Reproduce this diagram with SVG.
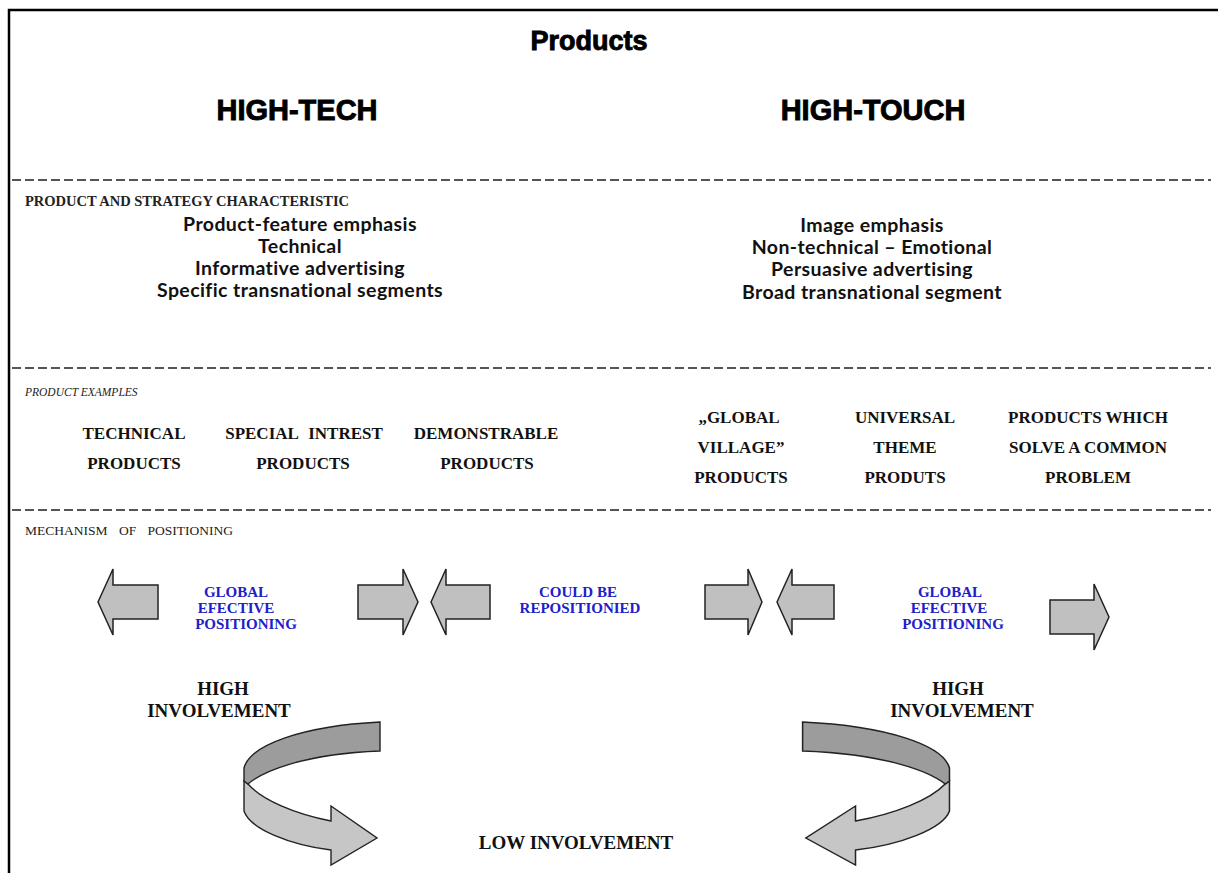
<svg xmlns="http://www.w3.org/2000/svg" width="1223" height="873" viewBox="0 0 1223 873">
<defs>
<style>
.bg{fill:#fff}
.frame{stroke:#000;stroke-width:2.5;fill:none}
.dash{stroke:#555;stroke-width:2;stroke-dasharray:9 4;fill:none}
.title{font-family:"Liberation Sans",Arial,sans-serif;font-weight:bold;fill:#000;stroke:#000;stroke-width:0.9;text-anchor:middle}
.sec{font-family:"Liberation Serif","Times New Roman",serif;fill:#222}
.char{font-family:Lato,"Liberation Sans",sans-serif;font-weight:bold;font-size:19.5px;letter-spacing:0.4px;fill:#111;text-anchor:middle}
.ex{font-family:"Liberation Serif","Times New Roman",serif;font-weight:bold;font-size:17px;fill:#111;text-anchor:middle}
.blue{font-family:"Liberation Serif","Times New Roman",serif;font-weight:bold;font-size:15px;fill:#2020c8;text-anchor:middle}
.inv{font-family:"Liberation Serif","Times New Roman",serif;font-weight:bold;font-size:19px;fill:#111;text-anchor:middle}
.arr{fill:#c0c0c0;stroke:#222;stroke-width:1.5;stroke-linejoin:miter}
.dark{fill:#9c9c9c;stroke:#222;stroke-width:1.4}
.light{fill:#c6c6c6;stroke:#222;stroke-width:1.4}
</style>
<g id="curl">
<path class="light" d="M244,781 L244,811 C250,829 290,845 331,850 L331,865 L377,838 L331,806 L331,821 C295,814 262,800 248,784 Z"/>
<path class="dark" d="M380,722 C302,726 250,745 244,768 L244,781 L248,784 C262,772 302,754 380,751 Z"/>
</g>
</defs>
<rect class="bg" x="0" y="0" width="1223" height="873"/>
<g id="frame">
<path class="frame" d="M9,873 L9,10 L1218,10"/>
</g>
<g id="headers">
<text class="title" x="589" y="50" font-size="27">Products</text>
<text class="title" x="297" y="120" font-size="29">HIGH-TECH</text>
<text class="title" x="873" y="120" font-size="29">HIGH-TOUCH</text>
</g>
<g id="dividers">
<line class="dash" x1="12" y1="180" x2="1211" y2="180"/>
<line class="dash" x1="12" y1="368" x2="1211" y2="368"/>
<line class="dash" x1="12" y1="510" x2="1211" y2="510"/>
</g>
<g id="section-labels">
<text class="sec" x="25" y="206" font-size="14.5" font-weight="bold">PRODUCT AND STRATEGY CHARACTERISTIC</text>
<text class="sec" x="25" y="396" font-size="11.5" font-style="italic">PRODUCT EXAMPLES</text>
<text class="sec" x="25" y="535" font-size="13.5" word-spacing="8">MECHANISM OF POSITIONING</text>
</g>
<g id="hightech-characteristics">
<text class="char" x="300" y="231">Product-feature emphasis</text>
<text class="char" x="300" y="253">Technical</text>
<text class="char" x="300" y="275">Informative advertising</text>
<text class="char" x="300" y="297">Specific transnational segments</text>
</g>
<g id="hightouch-characteristics">
<text class="char" x="872" y="232">Image emphasis</text>
<text class="char" x="872" y="254">Non-technical – Emotional</text>
<text class="char" x="872" y="276">Persuasive advertising</text>
<text class="char" x="872" y="299">Broad transnational segment</text>
</g>
<g id="ex-technical"><text class="ex" x="134" y="439">TECHNICAL</text><text class="ex" x="134" y="469">PRODUCTS</text></g>
<g id="ex-special"><text class="ex" x="304" y="439" word-spacing="6">SPECIAL INTREST</text><text class="ex" x="303" y="469">PRODUCTS</text></g>
<g id="ex-demonstrable"><text class="ex" x="486" y="439">DEMONSTRABLE</text><text class="ex" x="487" y="469">PRODUCTS</text></g>
<g id="ex-global-village"><text class="ex" x="739" y="423">„GLOBAL</text><text class="ex" x="741" y="453">VILLAGE”</text><text class="ex" x="741" y="483">PRODUCTS</text></g>
<g id="ex-universal"><text class="ex" x="905" y="423">UNIVERSAL</text><text class="ex" x="905" y="453">THEME</text><text class="ex" x="905" y="483">PRODUTS</text></g>
<g id="ex-common"><text class="ex" x="1088" y="423">PRODUCTS WHICH</text><text class="ex" x="1088" y="453">SOLVE A COMMON</text><text class="ex" x="1088" y="483">PROBLEM</text></g>
<g id="connectors">
<path class="arr" d="M98,602 L113,569 L113,585 L158,585 L158,619 L113,619 L113,635 Z"/>
<path class="arr" d="M418,602 L403,569 L403,585 L358,585 L358,619 L403,619 L403,635 Z"/>
<path class="arr" d="M431,602 L446,569 L446,585 L490,585 L490,619 L446,619 L446,635 Z"/>
<path class="arr" d="M762,602 L748,569 L748,585 L705,585 L705,619 L748,619 L748,635 Z"/>
<path class="arr" d="M777,602 L792,569 L792,585 L834,585 L834,619 L792,619 L792,635 Z"/>
<path class="arr" d="M1109,617 L1094,584 L1094,600 L1050,600 L1050,634 L1094,634 L1094,650 Z"/>
<use href="#curl"/>
<use href="#curl" transform="matrix(-1.08 0 0 1 1213 0)"/>
</g>
<g id="label-global-left"><text class="blue" x="236" y="597">GLOBAL</text><text class="blue" x="236" y="613">EFECTIVE</text><text class="blue" x="246" y="629">POSITIONING</text></g>
<g id="label-reposition"><text class="blue" x="578" y="597">COULD BE</text><text class="blue" x="580" y="613">REPOSITIONIED</text></g>
<g id="label-global-right"><text class="blue" x="950" y="597">GLOBAL</text><text class="blue" x="949" y="613">EFECTIVE</text><text class="blue" x="953" y="629">POSITIONING</text></g>
<g id="high-left"><text class="inv" x="223" y="695">HIGH</text><text class="inv" x="219" y="717">INVOLVEMENT</text></g>
<g id="high-right"><text class="inv" x="958" y="695">HIGH</text><text class="inv" x="962" y="717">INVOLVEMENT</text></g>
<g id="low"><text class="inv" x="576" y="849">LOW INVOLVEMENT</text></g>
</svg>
